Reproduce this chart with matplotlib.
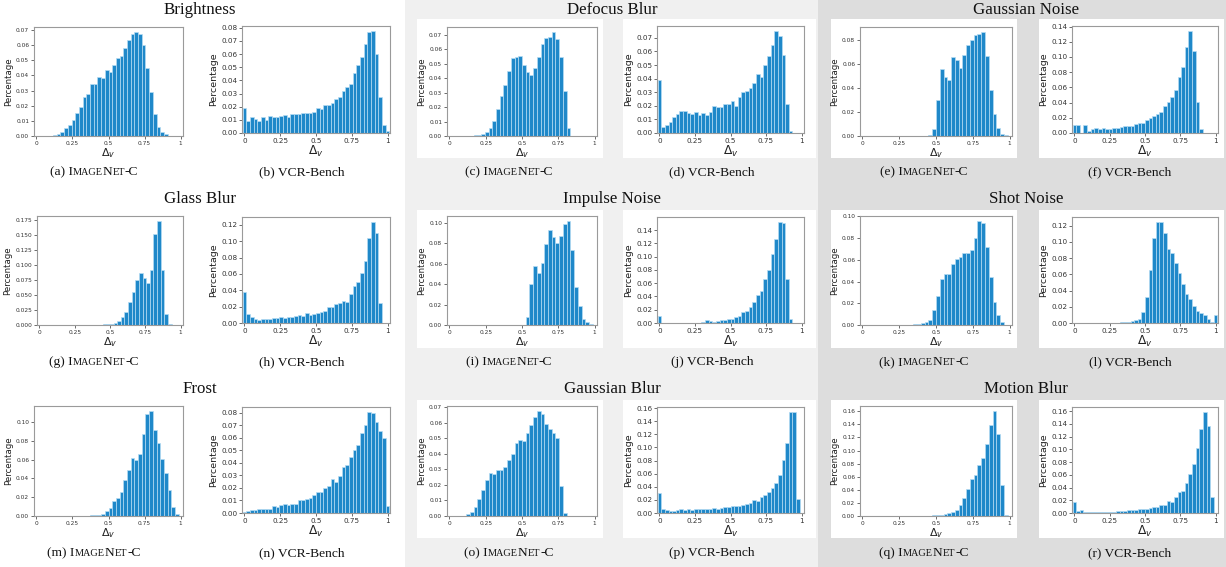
import numpy as np
import matplotlib
matplotlib.use("Agg")
import matplotlib.pyplot as plt
from matplotlib.patches import Rectangle
from matplotlib.ticker import MaxNLocator
from matplotlib.offsetbox import TextArea, HPacker, AnnotationBbox

# ---------------- data ----------------
corruptions = [["Brightness", "Defocus Blur", "Gaussian Noise"],
               ["Glass Blur", "Impulse Noise", "Shot Noise"],
               ["Frost", "Gaussian Blur", "Motion Blur"]]
letters = [["a", "b", "c", "d", "e", "f"],
           ["g", "h", "i", "j", "k", "l"],
           ["m", "n", "o", "p", "q", "r"]]
x_ticks = [0, 0.25, 0.5, 0.75, 1]
x_tick_labels = ["0", "0.25", "0.5", "0.75", "1"]

brightness_inet = [0, 0, 0, 0, 0.0003, 0.0008, 0.0015, 0.0025, 0.005, 0.007,
                   0.0105, 0.015, 0.019, 0.0255, 0.0275, 0.0345, 0.0345, 0.039, 0.0385, 0.0435,
                   0.042, 0.047, 0.0515, 0.053, 0.058, 0.0635, 0.067, 0.0685, 0.067, 0.060,
                   0.045, 0.029, 0.0142, 0.006, 0.0025, 0.001, 0.0003, 0.0003, 0.0002, 0.0002]
brightness_vcr = [0.019, 0.0095, 0.012, 0.011, 0.0095, 0.0125, 0.010, 0.013, 0.012, 0.0125,
                  0.013, 0.0135, 0.0125, 0.0145, 0.0145, 0.0145, 0.0155, 0.0155, 0.0155, 0.016,
                  0.019, 0.0185, 0.021, 0.021, 0.023, 0.026, 0.027, 0.032, 0.035, 0.0375,
                  0.0455, 0.0515, 0.058, 0.068, 0.077, 0.0775, 0.060, 0.027, 0.006, 0.0015]
defocus_inet = [0, 0, 0, 0, 0, 0.0002, 0.0003, 0.0006, 0.001, 0.0015,
                0.0028, 0.0055, 0.0105, 0.0185, 0.0275, 0.0355, 0.045, 0.054, 0.055, 0.0555,
                0.049, 0.0445, 0.042, 0.0475, 0.055, 0.0635, 0.068, 0.0685, 0.072, 0.0675,
                0.055, 0.031, 0.0053, 0.0003, 0, 0, 0, 0, 0, 0.0002]
defocus_vcr = [0.039, 0.0045, 0.006, 0.008, 0.0115, 0.014, 0.016, 0.016, 0.015, 0.014,
               0.0155, 0.0135, 0.015, 0.0135, 0.0155, 0.020, 0.0195, 0.019, 0.021, 0.0212,
               0.0235, 0.0198, 0.0265, 0.030, 0.031, 0.033, 0.037, 0.0435, 0.041, 0.050,
               0.0565, 0.065, 0.075, 0.0715, 0.0575, 0.0215, 0.0015, 0, 0, 0]
gnoise_inet = [0, 0, 0, 0, 0, 0, 0, 0, 0, 0,
               0, 0, 0, 0, 0, 0, 0, 0.0003, 0.001, 0.0055,
               0.030, 0.056, 0.049, 0.047, 0.0655, 0.0635, 0.0565, 0.0675, 0.0755, 0.080,
               0.0845, 0.085, 0.0865, 0.067, 0.0385, 0.018, 0.0065, 0.002, 0.0005, 0]
gnoise_vcr = [0.011, 0.0105, 0, 0.011, 0.002, 0.005, 0.006, 0.005, 0.006, 0.0055,
              0.0055, 0.007, 0.007, 0.008, 0.009, 0.009, 0.009, 0.0115, 0.0135, 0.0135,
              0.0165, 0.020, 0.022, 0.0255, 0.028, 0.035, 0.041, 0.047, 0.057, 0.0735,
              0.087, 0.113, 0.134, 0.108, 0.041, 0.0055, 0, 0, 0, 0]
glass_inet = [0, 0, 0, 0, 0, 0, 0, 0, 0, 0,
              0, 0, 0, 0, 0, 0.0003, 0.0003, 0.0005, 0.001, 0.0015,
              0.002, 0.004, 0.007, 0.013, 0.022, 0.038, 0.0555, 0.0745, 0.087, 0.079,
              0.070, 0.091, 0.151, 0.173, 0.091, 0.018, 0.002, 0.0003, 0, 0]
glass_vcr = [0.038, 0.0115, 0.0075, 0.005, 0.004, 0.0055, 0.0045, 0.0055, 0.0065, 0.006,
             0.007, 0.006, 0.0075, 0.0075, 0.0085, 0.0095, 0.0085, 0.0125, 0.010, 0.0105,
             0.0125, 0.014, 0.015, 0.020, 0.019, 0.023, 0.025, 0.027, 0.026, 0.035,
             0.045, 0.050, 0.0615, 0.076, 0.1035, 0.1235, 0.1095, 0.025, 0, 0]
impulse_inet = [0, 0, 0, 0, 0, 0, 0, 0, 0, 0,
                0, 0, 0, 0, 0, 0, 0, 0, 0, 0,
                0.0003, 0.008, 0.040, 0.058, 0.051, 0.061, 0.0795, 0.0925, 0.086, 0.080,
                0.087, 0.099, 0.1015, 0.0735, 0.037, 0.0185, 0.0055, 0.0025, 0.001, 0]
impulse_vcr = [0.011, 0, 0, 0, 0, 0, 0, 0, 0, 0,
               0, 0.0005, 0.002, 0.0045, 0.003, 0.002, 0.003, 0.0045, 0.0045, 0.0065,
               0.0065, 0.0095, 0.011, 0.016, 0.0175, 0.0245, 0.032, 0.042, 0.0485, 0.066,
               0.080, 0.104, 0.127, 0.152, 0.151, 0.067, 0.0065, 0, 0, 0]
shot_inet = [0, 0, 0, 0, 0, 0, 0, 0, 0, 0,
             0, 0, 0, 0.0003, 0.0005, 0.001, 0.0015, 0.0025, 0.005, 0.0135,
             0.027, 0.0425, 0.0465, 0.047, 0.0565, 0.061, 0.063, 0.0665, 0.066, 0.069,
             0.080, 0.0955, 0.0935, 0.0715, 0.044, 0.0215, 0.0095, 0.0032, 0.0003, 0]
shot_vcr = [0, 0, 0, 0, 0, 0, 0, 0, 0, 0,
            0.0003, 0.0005, 0.0005, 0.0008, 0.001, 0.0015, 0.002, 0.004, 0.0055, 0.013,
            0.0325, 0.0655, 0.1045, 0.124, 0.1245, 0.111, 0.0915, 0.0865, 0.0735, 0.062,
            0.048, 0.036, 0.029, 0.0205, 0.0145, 0.012, 0.0095, 0.005, 0.0015, 0.010]
frost_inet = [0, 0, 0, 0, 0, 0, 0, 0, 0, 0,
              0, 0, 0, 0.0003, 0.0005, 0.0008, 0.001, 0.0015, 0.0025, 0.0055,
              0.009, 0.0155, 0.019, 0.0255, 0.0385, 0.049, 0.0615, 0.0595, 0.066, 0.0875,
              0.109, 0.1115, 0.092, 0.0775, 0.0605, 0.0455, 0.0275, 0.0095, 0.0022, 0.0003]
frost_vcr = [0.001, 0.0015, 0.002, 0.0022, 0.0035, 0.003, 0.003, 0.0035, 0.0055, 0.0045,
             0.006, 0.007, 0.0065, 0.0075, 0.007, 0.010, 0.010, 0.011, 0.012, 0.014,
             0.0165, 0.017, 0.020, 0.0215, 0.027, 0.025, 0.0295, 0.037, 0.038, 0.0445,
             0.0505, 0.0545, 0.064, 0.0705, 0.0805, 0.0795, 0.0725, 0.0655, 0.0595, 0.0055]
gblur_inet = [0, 0, 0, 0, 0.0003, 0.001, 0.0028, 0.006, 0.011, 0.017,
              0.0235, 0.0275, 0.027, 0.0295, 0.0295, 0.0315, 0.036, 0.040, 0.047, 0.049,
              0.0485, 0.0535, 0.0585, 0.0635, 0.0675, 0.066, 0.059, 0.056, 0.0535, 0.0505,
              0.0195, 0.0017, 0, 0, 0, 0, 0, 0, 0, 0.0002]
gblur_vcr = [0.031, 0.0055, 0.0045, 0.0025, 0.003, 0.005, 0.0055, 0.0045, 0.0055, 0.0045,
             0.0055, 0.006, 0.006, 0.006, 0.0065, 0.008, 0.0065, 0.0075, 0.009, 0.0095,
             0.010, 0.0105, 0.0105, 0.0115, 0.014, 0.016, 0.0195, 0.019, 0.024, 0.028,
             0.032, 0.038, 0.046, 0.058, 0.081, 0.1075, 0.154, 0.154, 0.0215, 0]
motion_inet = [0, 0, 0, 0, 0, 0, 0, 0, 0, 0,
               0, 0, 0, 0, 0, 0, 0, 0.0003, 0.0005, 0.0008,
               0.001, 0.002, 0.003, 0.0045, 0.0055, 0.0095, 0.0175, 0.0275, 0.042, 0.0565,
               0.0625, 0.0775, 0.089, 0.110, 0.1395, 0.160, 0.125, 0.047, 0.0015, 0]
motion_vcr = [0.018, 0.0025, 0.0045, 0.001, 0.001, 0.001, 0.0008, 0.0015, 0.0015, 0.002,
              0.002, 0.0015, 0.003, 0.0025, 0.0035, 0.004, 0.0045, 0.0045, 0.0055, 0.0065,
              0.006, 0.0075, 0.009, 0.0095, 0.0125, 0.013, 0.019, 0.017, 0.025, 0.0335,
              0.034, 0.047, 0.061, 0.0775, 0.102, 0.1325, 0.1585, 0.136, 0.0255, 0]

panel_data = [[(brightness_inet, brightness_vcr), (defocus_inet, defocus_vcr), (gnoise_inet, gnoise_vcr)],
              [(glass_inet, glass_vcr), (impulse_inet, impulse_vcr), (shot_inet, shot_vcr)],
              [(frost_inet, frost_vcr), (gblur_inet, gblur_vcr), (motion_inet, motion_vcr)]]

# ---------------- figure ----------------
W, H = 1226, 567
fig = plt.figure(figsize=(W / 100, H / 100), dpi=100)
fig.patch.set_facecolor("white")


def frect(x0, y0, x1, y1, color, z=-10):
    fig.add_artist(Rectangle((x0 / W, 1 - y1 / H), (x1 - x0) / W, (y1 - y0) / H,
                             transform=fig.transFigure, facecolor=color,
                             edgecolor="none", zorder=z))


# group backgrounds
frect(405, 0, 818, H, "#f0f0f0")
frect(818, 0, W, H, "#dddddd")
box_rows = [(19, 158), (210, 348), (400, 538)]
box_left = [(417, 603), (831, 1017)]
box_right = [(623, 816), (1039, 1224)]
for (y0, y1) in box_rows:
    for (x0, x1) in box_left + box_right:
        frect(x0, y0, x1, y1, "white", z=-5)

left_x = [(34, 183), (447, 597), (860, 1012)]
right_x = [(242, 390), (657, 804), (1072, 1218)]
left_y = [(27, 136), (216, 325), (406, 516)]
right_y = [(26, 133), (217, 323), (407, 513)]
title_x = [200, 612, 1026]
title_y = [10, 199, 389]
cap_left_x = [94, 509, 924]
cap_right_x = [302, 712, 1130]
cap_y = [172, 362, 553]

nb = 40
centers = np.linspace(0, 1, nb)
bw = 1 / (nb - 1)
bar_color = "#1f88c9"
edge_color = "#b5dcf3"


def add_axes_px(x0, x1, y0, y1):
    return fig.add_axes([x0 / W, 1 - y1 / H, (x1 - x0) / W, (y1 - y0) / H])


def draw_hist(ax, vals, small):
    ax.bar(centers, vals, width=bw, color=bar_color, edgecolor=edge_color, linewidth=0.5)
    ax.set_xlim(-bw / 2 - 0.004, 1 + bw / 2 + 0.004)
    ax.set_xticks(x_ticks)
    ax.set_xticklabels(x_tick_labels)
    ax.yaxis.set_major_locator(MaxNLocator(nbins=9, steps=[1, 2, 2.5, 5, 10]))
    tsz = 4.2 if small else 5.2
    ax.tick_params(axis="both", labelsize=tsz, length=2, width=0.5, pad=1.5,
                   colors="#333333")
    for s in ax.spines.values():
        s.set_color("#9a9a9a")
        s.set_linewidth(0.8)
    ax.set_ylabel("Percentage", fontsize=6.2 if small else 6.8, color="#222222", labelpad=2)
    ax.set_xlabel(r"$\Delta_v$", fontsize=8 if small else 8.8, color="#222222", labelpad=0)


def caption(x, y, letter, kind):
    big = 9.7
    small = 7.4
    props_big = dict(fontsize=big, family="Liberation Serif", color="#111111")
    props_small = dict(fontsize=small, family="Liberation Serif", color="#111111")
    if kind == "inet":
        parts = [("(%s) I" % letter, props_big), ("MAGE", props_small), ("N", props_big),
                 ("ET", props_small), ("-C", props_big)]
    else:
        parts = [("(%s) VCR-Bench" % letter, props_big)]
    children = [TextArea(t, textprops=p) for t, p in parts]
    pack = HPacker(children=children, align="baseline", pad=0, sep=0)
    ab = AnnotationBbox(pack, (x / W, 1 - y / H), xycoords="figure fraction",
                        frameon=False, box_alignment=(0.5, 0.5), pad=0)
    fig.add_artist(ab)


for r in range(3):
    for g in range(3):
        inet_vals, vcr_vals = panel_data[r][g]
        lx0 = left_x[g][0] + (3 if (r == 1 and g == 0) else 0)
        ax1 = add_axes_px(lx0, left_x[g][1], left_y[r][0], left_y[r][1])
        draw_hist(ax1, inet_vals, True)
        ax2 = add_axes_px(right_x[g][0], right_x[g][1], right_y[r][0], right_y[r][1])
        draw_hist(ax2, vcr_vals, False)
        fig.text(title_x[g] / W, 1 - title_y[r] / H, corruptions[r][g],
                 fontsize=12.2, family="Liberation Serif", ha="center", va="center",
                 color="#111111")
        caption(cap_left_x[g], cap_y[r], letters[r][2 * g], "inet")
        caption(cap_right_x[g], cap_y[r], letters[r][2 * g + 1], "vcr")

fig.savefig("out.png", dpi=100, facecolor=fig.get_facecolor())
